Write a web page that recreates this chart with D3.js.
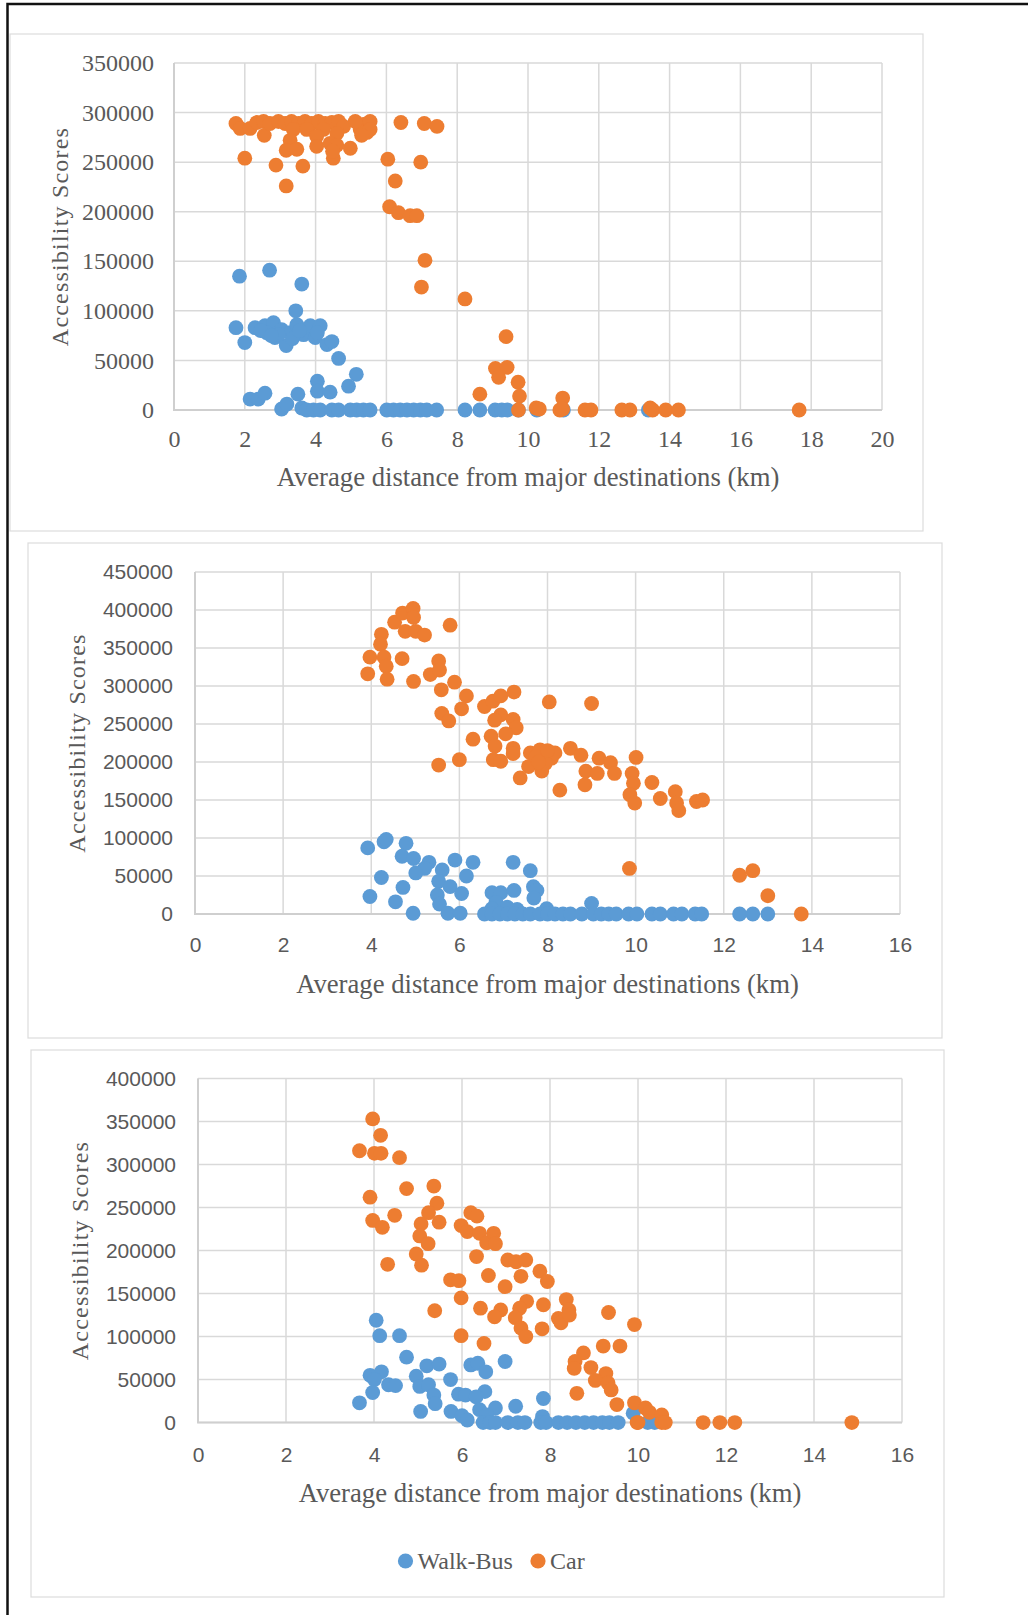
<!DOCTYPE html>
<html>
<head>
<meta charset="utf-8">
<script src="https://cdn.jsdelivr.net/npm/d3@7"></script>
<style>
    body { margin: 0; background: #fff; }
    svg { display: block; }
</style>
</head>
<body>
<svg id="figure" width="1028" height="1615"></svg>
<script>
// ---- data (km, accessibility score) ----
const seriesNames = ['Walk-Bus', 'Car'];
const xTicks1 = [0, 2, 4, 6, 8, 10, 12, 14, 16, 18, 20];
const yTicks1 = [0, 50000, 100000, 150000, 200000, 250000, 300000, 350000];
const xTicks23 = [0, 2, 4, 6, 8, 10, 12, 14, 16];
const yTicks2 = [0, 50000, 100000, 150000, 200000, 250000, 300000, 350000, 400000, 450000];
const yTicks3 = [0, 50000, 100000, 150000, 200000, 250000, 300000, 350000, 400000];

const walkBus1 = [
    [1.85, 135000], [2.70, 141000], [3.61, 127000], [3.44, 100000], [1.75, 83000], [2.00, 68000],
    [2.29, 83000], [2.57, 85000], [2.81, 88000], [2.62, 78000], [2.85, 73000], [3.04, 81000],
    [3.17, 65000], [3.28, 78000], [3.47, 86000], [3.66, 76000], [3.85, 85000], [4.13, 85000],
    [3.99, 73000], [4.32, 66000], [4.46, 69000], [4.65, 52000], [2.45, 80000], [2.95, 76000],
    [3.35, 72000], [3.55, 80000], [4.05, 78000], [2.75, 75000],
    [5.15, 36000], [4.93, 24000], [4.05, 29000], [4.05, 19000], [4.41, 18000], [3.50, 16000],
    [2.15, 11000], [2.38, 11000], [2.57, 17000], [3.04, 1000], [3.19, 6000], [3.61, 2000],
    [3.75, 0], [3.94, 0], [4.13, 0], [4.46, 0], [4.65, 0], [4.98, 0], [5.16, 0], [5.35, 0],
    [5.54, 0], [6.01, 0], [6.20, 0], [6.39, 0], [6.58, 0], [6.77, 0], [6.96, 0], [7.14, 0],
    [7.42, 0], [8.22, 0], [8.64, 0], [9.07, 0], [9.26, 0], [9.42, 0], [9.73, 0], [10.25, 0],
    [11.00, 0], [13.40, 0]
];
const car1 = [
    [1.75, 289000], [1.87, 284000], [2.15, 284000], [2.34, 290000], [2.53, 291000], [2.55, 277000],
    [2.71, 289000], [2.95, 291000], [3.14, 289000], [3.32, 291000], [3.52, 289000], [3.70, 291000],
    [3.89, 289000], [4.08, 291000], [4.27, 289000], [4.46, 290000], [4.65, 291000], [4.79, 286000],
    [3.37, 283000], [3.75, 283000], [4.22, 283000], [4.60, 279000], [3.28, 272000], [4.03, 276000],
    [4.41, 269000], [4.60, 267000], [5.26, 283000], [5.35, 288000], [5.45, 280000], [5.12, 291000],
    [5.54, 291000], [5.54, 283000], [5.30, 277000], [4.98, 264000],
    [2.00, 254000], [2.88, 247000], [3.64, 246000], [3.17, 226000], [3.17, 262000], [3.47, 263000],
    [4.03, 266000], [4.50, 254000], [4.48, 261000],
    [6.41, 290000], [7.07, 289000], [7.43, 286000], [6.04, 253000], [6.97, 250000], [6.25, 231000],
    [6.09, 205000], [6.34, 199000], [6.67, 196000], [6.86, 196000], [7.09, 151000], [6.99, 124000],
    [8.22, 112000], [9.38, 74000], [9.08, 42000], [9.41, 43000], [9.17, 33000], [9.72, 28000],
    [9.76, 14000], [8.64, 16000], [10.98, 12000], [9.73, 0], [10.23, 2000], [10.32, 1000],
    [10.90, 0], [10.98, 1000], [11.61, 0], [11.78, 0], [12.65, 0], [12.88, 0], [13.45, 2000],
    [13.52, 0], [13.89, 0], [14.25, 0], [17.66, 0]
];

const walkBus2 = [
    [3.92, 87000], [4.29, 95000], [4.34, 98000], [4.79, 93000], [4.70, 76000], [4.96, 73000],
    [5.31, 68000], [5.21, 60000], [5.01, 54000], [5.61, 58000], [5.90, 71000], [6.31, 68000],
    [6.16, 50000], [4.23, 48000], [5.53, 43000], [5.79, 36000], [6.05, 27000], [3.97, 23000],
    [4.55, 16000], [4.72, 35000], [5.50, 25000], [5.55, 13000], [4.95, 1000], [5.74, 1000],
    [6.02, 1000], [7.22, 68000], [7.61, 57000], [6.74, 28000], [6.94, 28000], [7.24, 31000],
    [7.68, 36000], [7.76, 31000], [7.69, 21000], [6.83, 15000], [9.00, 14000], [7.98, 7000],
    [6.74, 7000], [7.09, 9000], [7.31, 6000],
    [6.57, 0], [6.74, 0], [6.92, 0], [7.09, 0], [7.26, 0], [7.44, 0], [7.61, 0], [7.83, 0],
    [8.00, 0], [8.17, 0], [8.35, 0], [8.52, 0], [8.78, 0], [9.04, 0], [9.22, 0], [9.39, 0],
    [9.56, 0], [9.84, 0], [10.03, 0], [10.37, 0], [10.56, 0], [10.86, 0], [11.05, 0], [11.35, 0],
    [11.50, 0], [12.36, 0], [12.66, 0], [13.00, 0]
];
const car2 = [
    [3.92, 316000], [3.97, 338000], [4.23, 368000], [4.21, 355000], [4.29, 338000], [4.34, 326000],
    [4.36, 309000], [4.53, 384000], [4.71, 396000], [4.95, 402000], [4.96, 390000], [4.77, 372000],
    [5.01, 372000], [5.21, 367000], [4.70, 336000], [4.96, 306000], [5.79, 380000], [5.34, 315000],
    [5.53, 333000], [5.55, 321000], [5.89, 305000], [5.59, 295000], [6.16, 287000], [6.05, 270000],
    [5.60, 264000], [5.76, 254000], [6.31, 230000], [5.53, 196000], [6.00, 203000], [6.57, 273000],
    [6.76, 280000], [6.94, 287000], [7.24, 292000], [6.94, 262000], [6.80, 255000], [7.22, 256000],
    [7.29, 245000], [7.05, 237000], [6.72, 234000], [6.81, 221000], [7.22, 218000], [7.22, 211000],
    [6.77, 203000], [6.94, 201000], [8.04, 279000], [9.00, 277000], [7.38, 179000], [7.57, 194000],
    [7.61, 212000], [7.83, 216000], [7.87, 188000], [7.91, 203000], [8.09, 205000], [8.17, 212000],
    [7.74, 207000], [7.95, 198000], [8.00, 215000], [7.80, 200000], [8.52, 218000], [8.76, 209000],
    [8.28, 163000], [8.87, 188000], [8.85, 170000], [9.13, 185000], [9.17, 205000], [9.43, 199000],
    [9.52, 185000], [10.01, 206000], [9.92, 185000], [9.95, 172000], [9.87, 157000], [9.98, 146000],
    [10.37, 173000], [10.56, 152000], [10.90, 161000], [10.93, 146000], [10.98, 136000],
    [11.38, 148000], [11.52, 150000], [9.86, 60000], [12.36, 51000], [12.66, 57000], [13.00, 24000],
    [13.76, 0]
];

const walkBus3 = [
    [4.05, 119000], [4.13, 101000], [4.58, 101000], [4.74, 76000], [3.91, 55000], [4.17, 59000],
    [4.01, 50000], [4.33, 44000], [4.49, 43000], [3.97, 35000], [3.67, 23000], [5.20, 66000],
    [5.48, 68000], [4.96, 54000], [5.04, 42000], [5.24, 44000], [5.36, 32000], [5.39, 22000],
    [5.06, 13000], [5.74, 50000], [5.92, 33000], [6.08, 32000], [6.20, 67000], [6.36, 69000],
    [6.54, 59000], [6.98, 71000], [6.52, 36000], [6.32, 30000], [5.75, 13000], [6.00, 8000],
    [6.12, 3000], [6.76, 17000], [7.22, 19000], [7.85, 28000], [7.83, 7000], [6.40, 15000],
    [6.56, 9000],
    [6.48, 0], [6.64, 0], [6.76, 0], [7.04, 0], [7.27, 0], [7.43, 0], [7.79, 0], [7.91, 0],
    [8.19, 0], [8.39, 0], [8.59, 0], [8.79, 0], [8.99, 0], [9.19, 0], [9.35, 0], [9.55, 0],
    [9.89, 11000], [10.22, 0], [10.38, 0]
];
const car3 = [
    [3.97, 353000], [4.15, 334000], [3.67, 316000], [4.01, 313000], [4.16, 313000], [4.58, 308000],
    [3.91, 262000], [3.97, 235000], [4.19, 227000], [4.47, 241000], [4.31, 184000], [4.74, 272000],
    [5.36, 275000], [5.43, 255000], [5.24, 244000], [5.07, 231000], [5.48, 233000], [5.04, 217000],
    [5.23, 208000], [4.96, 196000], [5.08, 183000], [5.38, 130000], [5.74, 166000], [5.93, 165000],
    [5.98, 145000], [5.98, 101000], [6.20, 244000], [6.34, 240000], [5.98, 229000], [6.12, 222000],
    [6.40, 220000], [6.56, 209000], [6.72, 220000], [6.76, 208000], [6.33, 193000], [6.60, 171000],
    [6.42, 133000], [6.50, 92000], [7.04, 189000], [7.23, 187000], [7.45, 189000], [7.34, 170000],
    [6.98, 158000], [7.47, 141000], [7.31, 133000], [6.88, 131000], [6.74, 123000], [7.21, 122000],
    [7.34, 110000], [7.45, 100000], [7.85, 137000], [7.82, 109000], [7.77, 176000], [7.94, 164000],
    [8.37, 143000], [8.43, 131000], [8.19, 121000], [8.25, 116000], [8.44, 125000], [9.33, 128000],
    [9.92, 114000], [9.21, 89000], [9.59, 89000], [8.76, 81000], [8.57, 71000], [8.55, 63000],
    [8.93, 64000], [9.27, 57000], [9.03, 49000], [9.32, 46000], [9.39, 38000], [8.61, 34000],
    [9.52, 21000], [9.92, 23000], [10.17, 17000], [10.26, 12000], [10.54, 9000], [9.98, 0],
    [10.00, 0], [10.54, 0], [10.62, 0], [11.48, 0], [11.86, 0], [12.20, 0], [14.86, 0]
];

const xTitle = 'Average distance from major destinations (km)';
const yTitle = 'Accessibility Scores';

const colors = { walk: '#5B9BD5', car: '#ED7D31', text: '#595959', grid: '#d9d9d9' };
const serif = '"Liberation Serif", "Times New Roman", serif';
const sans = '"Liberation Sans", Arial, sans-serif';

const panels = [
    {
        box: [10, 34, 913, 497], plot: { left: 174, right: 882, top: 63, bottom: 410 },
        xMax: 20, yMax: 350000, xTicks: xTicks1, yTicks: yTicks1,
        tickFont: serif, tickSize: 24, yPad: 20, xPad: 20,
        xTitleY: 477, yTitleX: 60, walk: walkBus1, car: car1
    },
    {
        box: [28, 543, 914, 495], plot: { left: 195, right: 900, top: 572, bottom: 914 },
        xMax: 16, yMax: 450000, xTicks: xTicks23, yTicks: yTicks2,
        tickFont: sans, tickSize: 21, yPad: 22, xPad: 23,
        xTitleY: 984, yTitleX: 77, walk: walkBus2, car: car2
    },
    {
        box: [31, 1050, 913, 547], plot: { left: 198, right: 902, top: 1078.5, bottom: 1422.6 },
        xMax: 16, yMax: 400000, xTicks: xTicks23, yTicks: yTicks3,
        tickFont: sans, tickSize: 21, yPad: 22, xPad: 24,
        xTitleY: 1493, yTitleX: 80, walk: walkBus3, car: car3, legendY: 1561
    }
];

let svg = d3.select('#figure');

// black frame around the scanned page (top and left edges only)
svg.append('path')
    .attr('d', 'M1028,4 L7.5,4 L7.5,1615')
    .attr('fill', 'none')
    .attr('stroke', '#111')
    .attr('stroke-width', 2.5);

function drawPanel(p) {
    let g = svg.append('g');
    let pl = p.plot;

    g.append('rect')
        .attr('x', p.box[0]).attr('y', p.box[1])
        .attr('width', p.box[2]).attr('height', p.box[3])
        .attr('fill', '#fff')
        .attr('stroke', '#dcdcdc')
        .attr('stroke-width', 1.2);

    let x = d3.scaleLinear().domain([0, p.xMax]).range([pl.left, pl.right]);
    let y = d3.scaleLinear().domain([0, p.yMax]).range([pl.bottom, pl.top]);

    // gridlines
    g.append('g').selectAll('line.h')
        .data(p.yTicks)
        .join('line')
        .attr('x1', pl.left).attr('x2', pl.right)
        .attr('y1', d => y(d)).attr('y2', d => y(d))
        .attr('stroke', colors.grid).attr('stroke-width', 1.5);
    g.append('g').selectAll('line.v')
        .data(p.xTicks)
        .join('line')
        .attr('x1', d => x(d)).attr('x2', d => x(d))
        .attr('y1', pl.top).attr('y2', pl.bottom)
        .attr('stroke', colors.grid).attr('stroke-width', 1.5);

    // axis lines are a bit heavier than the grid
    g.append('path')
        .attr('d', `M${pl.left},${pl.top} L${pl.left},${pl.bottom} L${pl.right},${pl.bottom}`)
        .attr('fill', 'none')
        .attr('stroke', '#cfcfcf')
        .attr('stroke-width', 2);

    let yAxis = d3.axisLeft(y).tickValues(p.yTicks).tickSize(0).tickPadding(p.yPad).tickFormat(d3.format('d'));
    let xAxis = d3.axisBottom(x).tickValues(p.xTicks).tickSize(0).tickPadding(p.xPad).tickFormat(d3.format('d'));

    [g.append('g').attr('transform', `translate(${pl.left},0)`).call(yAxis),
     g.append('g').attr('transform', `translate(0,${pl.bottom})`).call(xAxis)]
        .forEach(a => {
            a.select('.domain').remove();
            a.attr('font-family', p.tickFont).attr('font-size', p.tickSize);
            a.selectAll('text').attr('fill', colors.text);
        });

    g.append('text')
        .attr('x', (pl.left + pl.right) / 2)
        .attr('y', p.xTitleY)
        .attr('text-anchor', 'middle')
        .attr('dominant-baseline', 'central')
        .attr('font-family', serif)
        .attr('font-size', 26.7)
        .attr('fill', colors.text)
        .text(xTitle);

    g.append('text')
        .attr('transform', `translate(${p.yTitleX},${(pl.top + pl.bottom) / 2}) rotate(-90)`)
        .attr('text-anchor', 'middle')
        .attr('dominant-baseline', 'central')
        .attr('font-family', serif)
        .attr('font-size', 24)
        .attr('letter-spacing', 1.2)
        .attr('fill', colors.text)
        .text(yTitle);

    g.append('g').selectAll('circle')
        .data(p.walk)
        .join('circle')
        .attr('cx', d => x(d[0]))
        .attr('cy', d => y(d[1]))
        .attr('r', 7.4)
        .attr('fill', colors.walk);

    g.append('g').selectAll('circle')
        .data(p.car)
        .join('circle')
        .attr('cx', d => x(d[0]))
        .attr('cy', d => y(d[1]))
        .attr('r', 7.4)
        .attr('fill', colors.car);

    if (p.legendY) {
        let items = [
            { name: seriesNames[0], color: colors.walk, cx: 405.5 },
            { name: seriesNames[1], color: colors.car, cx: 538 }
        ];
        let lg = g.append('g').selectAll('g')
            .data(items)
            .join('g')
            .attr('transform', d => `translate(${d.cx},${p.legendY})`);
        lg.append('circle').attr('r', 7.6).attr('fill', d => d.color);
        lg.append('text')
            .attr('x', 12)
            .attr('dominant-baseline', 'central')
            .attr('font-family', serif)
            .attr('font-size', 24)
            .attr('fill', colors.text)
            .text(d => d.name);
    }
}

panels.forEach(drawPanel);
</script>
</body>
</html>
